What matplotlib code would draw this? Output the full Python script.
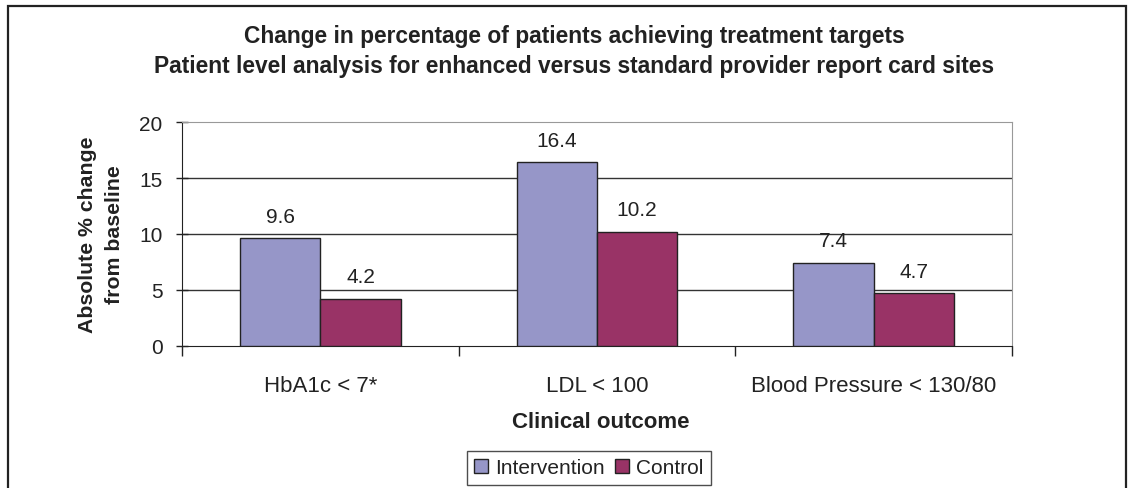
import matplotlib.pyplot as plt
import numpy as np
from matplotlib.patches import Rectangle

plt.rcParams['font.family'] = ['Liberation Sans', 'DejaVu Sans']

# ── DATOS ─────────────────────────────────────────
categorias = ["HbA1c < 7*", "LDL < 100", "Blood Pressure < 130/80"]
intervencion = [9.6, 16.4, 7.4]
control = [4.2, 10.2, 4.7]
y_ticks = [0, 5, 10, 15, 20]

COL_INT = "#9696C8"
COL_CTL = "#993366"
TXT = "#222222"

W, H = 1136, 489
fig = plt.figure(figsize=(W / 100, H / 100), dpi=100)
ax = fig.add_axes([182 / W, 1 - 347 / H, 830 / W, 224 / H])

x = np.arange(len(categorias))
w = 0.29
b1 = ax.bar(x - w / 2, intervencion, w, color=COL_INT, edgecolor=TXT, linewidth=1, zorder=3,
            label="Intervention")
b2 = ax.bar(x + w / 2, control, w, color=COL_CTL, edgecolor=TXT, linewidth=1, zorder=3,
            label="Control")

# etiquetas de valor encima de cada barra
for barras, vals in ((b1, intervencion), (b2, control)):
    for r, v in zip(barras, vals):
        ax.annotate(f"{v:.1f}", (r.get_x() + r.get_width() / 2, v), xytext=(0, 16),
                    textcoords="offset points", ha="center", va="center", fontsize=15, color=TXT)

ax.set_xlim(-0.5, 2.5)
ax.set_ylim(0, 20)
ax.set_yticks(y_ticks)
ax.set_xticks([-0.5, 0.5, 1.5, 2.5])
ax.set_xticklabels([])
ax.set_xticks(x, minor=True)
ax.set_xticklabels(categorias, minor=True, fontsize=16, color=TXT)
ax.tick_params(axis="x", which="minor", length=0, pad=21)
ax.tick_params(axis="x", which="major", length=7, width=1, color=TXT, direction="out")
ax.tick_params(axis="y", length=8, width=1, color=TXT, direction="inout", labelsize=15,
               labelcolor=TXT, pad=10)

for yv in [5, 10, 15]:
    ax.axhline(yv, color="#333333", linewidth=1, zorder=1)

ax.spines["top"].set_color("#999999")
ax.spines["right"].set_color("#999999")
ax.spines["left"].set_color(TXT)
ax.spines["bottom"].set_color(TXT)

ax.set_ylabel("Absolute % change\nfrom baseline", fontsize=15.3, fontweight="bold", color=TXT,
              linespacing=1.55)
ax.yaxis.set_label_coords(-0.098, 0.5)
ax.yaxis.label.set_va("center")
ax.set_xlabel("Clinical outcome", fontsize=16, fontweight="bold", color=TXT)
ax.xaxis.set_label_coords(0.505, (347 - 423) / 224)
ax.xaxis.label.set_va("center")

fig.text(574 / W, 1 - 36 / H, "Change in percentage of patients achieving treatment targets",
         ha="center", va="center", fontsize=16.4, fontweight="bold", color=TXT)
fig.text(574 / W, 1 - 66 / H,
         "Patient level analysis for enhanced versus standard provider report card sites",
         ha="center", va="center", fontsize=16.4, fontweight="bold", color=TXT)

leg = fig.legend(handles=[b1, b2], loc="upper center", bbox_to_anchor=(589 / W, 1 - 452 / H),
                 ncol=2, fontsize=15, frameon=True, fancybox=False, handlelength=0.65,
                 handleheight=0.65, handletextpad=0.35, columnspacing=0.5, borderpad=0.35,
                 borderaxespad=0)
leg.get_frame().set_edgecolor(TXT)
leg.get_frame().set_linewidth(1)
for t in leg.get_texts():
    t.set_color(TXT)

# marco exterior del gráfico (abierto por abajo)
fig.patches.append(Rectangle((8 / W, -0.1), 1118 / W, 1.1 - 7 / H, transform=fig.transFigure,
                             fill=False, edgecolor="#222222", linewidth=1.6))

fig.savefig("out.png", dpi=100)
